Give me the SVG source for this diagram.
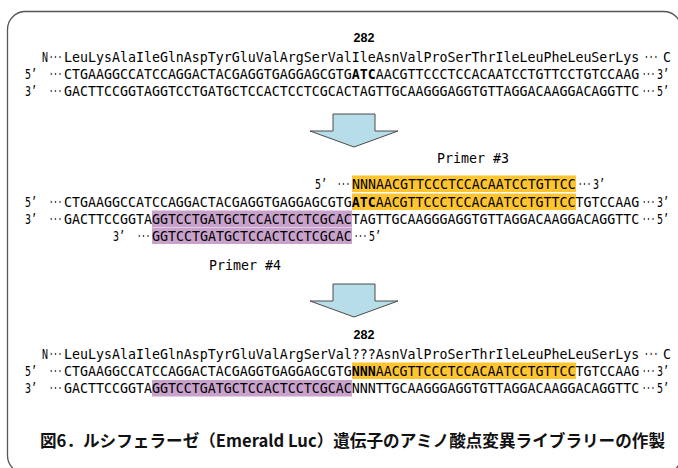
<svg xmlns="http://www.w3.org/2000/svg" width="678" height="468" viewBox="0 0 678 468">
  <style>
    .seq { font-family: "DejaVu Sans Mono", "Liberation Mono", monospace; font-size: 14.5px; fill: #000; }
    .b { font-weight: bold; }
    .num { font-family: "Liberation Sans", Arial, sans-serif; font-weight: bold; font-size: 12.5px; fill: #000; }
    .cap { font-family: "Noto Sans CJK JP", "Noto Sans", sans-serif; font-weight: bold; font-size: 16.5px; fill: #111; }
    .yel { fill: #FFC52F; }
    .pur { fill: #C9A2CB; }
    .arrow { fill: #B7DEE8; stroke: #4a4a4a; stroke-width: 1; stroke-linejoin: miter; }
    .frame { fill: none; stroke: #555; stroke-width: 1.3; }
  </style>

  <rect class="frame" x="7.5" y="11.5" width="674" height="462" rx="18"/>

  <!-- sequence runs: monospace squeezed to 8px per base via scale(0.9164,1);
       strand ends and ellipses squeezed further (0.5 / 0.686) -->

  <!-- original sequence -->
  <g id="wildtype">
    <text class="num" x="364" y="41.5" text-anchor="middle">282</text>
    <text class="seq" transform="translate(42,61.5) scale(0.686,1)">N</text>
    <text class="seq" transform="translate(49,61.5) scale(0.5,1)">···</text>
    <text class="seq" transform="translate(64,61.5) scale(0.9164,1)">LeuLysAlaIleGlnAspTyrGluValArgSerValIleAsnValProSerThrIleLeuPheLeuSerLys</text>
    <text class="seq" transform="translate(644,61.5) scale(0.55,1)">···</text>
    <text class="seq" transform="translate(663,61.5) scale(0.9164,1)">C</text>

    <text class="seq" transform="translate(25,78.5) scale(0.686,1)">5’</text>
    <text class="seq" transform="translate(49,78.5) scale(0.5,1)">···</text>
    <text class="seq" transform="translate(64,78.5) scale(0.9164,1)">CTGAAGGCCATCCAGGACTACGAGGTGAGGAGCGTG<tspan class="b">ATC</tspan>AACGTTCCCTCCACAATCCTGTTCCTGTCCAAG</text>
    <text class="seq" transform="translate(642,78.5) scale(0.5,1)">···</text>
    <text class="seq" transform="translate(657,78.5) scale(0.686,1)">3’</text>

    <text class="seq" transform="translate(25,96) scale(0.686,1)">3’</text>
    <text class="seq" transform="translate(49,96) scale(0.5,1)">···</text>
    <text class="seq" transform="translate(64,96) scale(0.9164,1)">GACTTCCGGTAGGTCCTGATGCTCCACTCCTCGCACTAGTTGCAAGGGAGGTGTTAGGACAAGGACAGGTTC</text>
    <text class="seq" transform="translate(642,96) scale(0.5,1)">···</text>
    <text class="seq" transform="translate(657,96) scale(0.686,1)">5’</text>
  </g>

  <!-- primer annealing -->
  <g id="annealing">
    <text class="seq" transform="translate(437,163) scale(0.9164,1)">Primer #3</text>

    <rect class="yel" x="352" y="175.5" width="224" height="16.5"/>
    <text class="seq" transform="translate(315,188.5) scale(0.686,1)">5’</text>
    <text class="seq" transform="translate(337,188.5) scale(0.5,1)">···</text>
    <text class="seq" transform="translate(352,188.5) scale(0.9164,1)">NNNAACGTTCCCTCCACAATCCTGTTCC</text>
    <text class="seq" transform="translate(578,188.5) scale(0.5,1)">···</text>
    <text class="seq" transform="translate(593,188.5) scale(0.686,1)">3’</text>

    <rect class="yel" x="352" y="193.5" width="224" height="16.5"/>
    <text class="seq" transform="translate(25,206.5) scale(0.686,1)">5’</text>
    <text class="seq" transform="translate(49,206.5) scale(0.5,1)">···</text>
    <text class="seq" transform="translate(64,206.5) scale(0.9164,1)">CTGAAGGCCATCCAGGACTACGAGGTGAGGAGCGTG<tspan class="b">ATC</tspan>AACGTTCCCTCCACAATCCTGTTCCTGTCCAAG</text>
    <text class="seq" transform="translate(642,206.5) scale(0.5,1)">···</text>
    <text class="seq" transform="translate(657,206.5) scale(0.686,1)">3’</text>

    <rect class="pur" x="152" y="210.5" width="200" height="16.5"/>
    <text class="seq" transform="translate(25,223.5) scale(0.686,1)">3’</text>
    <text class="seq" transform="translate(49,223.5) scale(0.5,1)">···</text>
    <text class="seq" transform="translate(64,223.5) scale(0.9164,1)">GACTTCCGGTAGGTCCTGATGCTCCACTCCTCGCACTAGTTGCAAGGGAGGTGTTAGGACAAGGACAGGTTC</text>
    <text class="seq" transform="translate(642,223.5) scale(0.5,1)">···</text>
    <text class="seq" transform="translate(657,223.5) scale(0.686,1)">5’</text>

    <rect class="pur" x="152" y="227.5" width="200" height="16.5"/>
    <text class="seq" transform="translate(113,240.5) scale(0.686,1)">3’</text>
    <text class="seq" transform="translate(137,240.5) scale(0.5,1)">···</text>
    <text class="seq" transform="translate(354,240.5) scale(0.5,1)">···</text>
    <text class="seq" transform="translate(152,240.5) scale(0.9164,1)">GGTCCTGATGCTCCACTCCTCGCAC</text>
    <text class="seq" transform="translate(369,240.5) scale(0.686,1)">5’</text>

    <text class="seq" transform="translate(209,270) scale(0.9164,1)">Primer #4</text>
  </g>

  <!-- mutant library -->
  <g id="library">
    <text class="num" x="364" y="338.5" text-anchor="middle">282</text>
    <text class="seq" transform="translate(42,358.5) scale(0.686,1)">N</text>
    <text class="seq" transform="translate(49,358.5) scale(0.5,1)">···</text>
    <text class="seq" transform="translate(64,358.5) scale(0.9164,1)">LeuLysAlaIleGlnAspTyrGluValArgSerVal???AsnValProSerThrIleLeuPheLeuSerLys</text>
    <text class="seq" transform="translate(644,358.5) scale(0.55,1)">···</text>
    <text class="seq" transform="translate(663,358.5) scale(0.9164,1)">C</text>

    <rect class="yel" x="352" y="362.5" width="224" height="16.5"/>
    <text class="seq" transform="translate(25,375.5) scale(0.686,1)">5’</text>
    <text class="seq" transform="translate(49,375.5) scale(0.5,1)">···</text>
    <text class="seq" transform="translate(64,375.5) scale(0.9164,1)">CTGAAGGCCATCCAGGACTACGAGGTGAGGAGCGTG<tspan class="b">NNN</tspan>AACGTTCCCTCCACAATCCTGTTCCTGTCCAAG</text>
    <text class="seq" transform="translate(642,375.5) scale(0.5,1)">···</text>
    <text class="seq" transform="translate(657,375.5) scale(0.686,1)">3’</text>

    <rect class="pur" x="152" y="380" width="200" height="16.5"/>
    <text class="seq" transform="translate(25,393) scale(0.686,1)">3’</text>
    <text class="seq" transform="translate(49,393) scale(0.5,1)">···</text>
    <text class="seq" transform="translate(64,393) scale(0.9164,1)">GACTTCCGGTAGGTCCTGATGCTCCACTCCTCGCACNNNTTGCAAGGGAGGTGTTAGGACAAGGACAGGTTC</text>
    <text class="seq" transform="translate(642,393) scale(0.5,1)">···</text>
    <text class="seq" transform="translate(657,393) scale(0.686,1)">5’</text>
  </g>

  <!-- step arrows -->
  <g id="connectors">
    <polygon class="arrow" points="333,114 375,114 375,131 398,131 354,147 310,131 333,131"/>
    <polygon class="arrow" points="333,284 375,284 375,301 398,301 354,317 310,301 333,301"/>
  </g>

  <g id="caption">
    <text class="cap" x="40" y="447" textLength="625" lengthAdjust="spacingAndGlyphs">図6．ルシフェラーゼ（Emerald Luc）遺伝子のアミノ酸点変異ライブラリーの作製</text>
  </g>
</svg>
